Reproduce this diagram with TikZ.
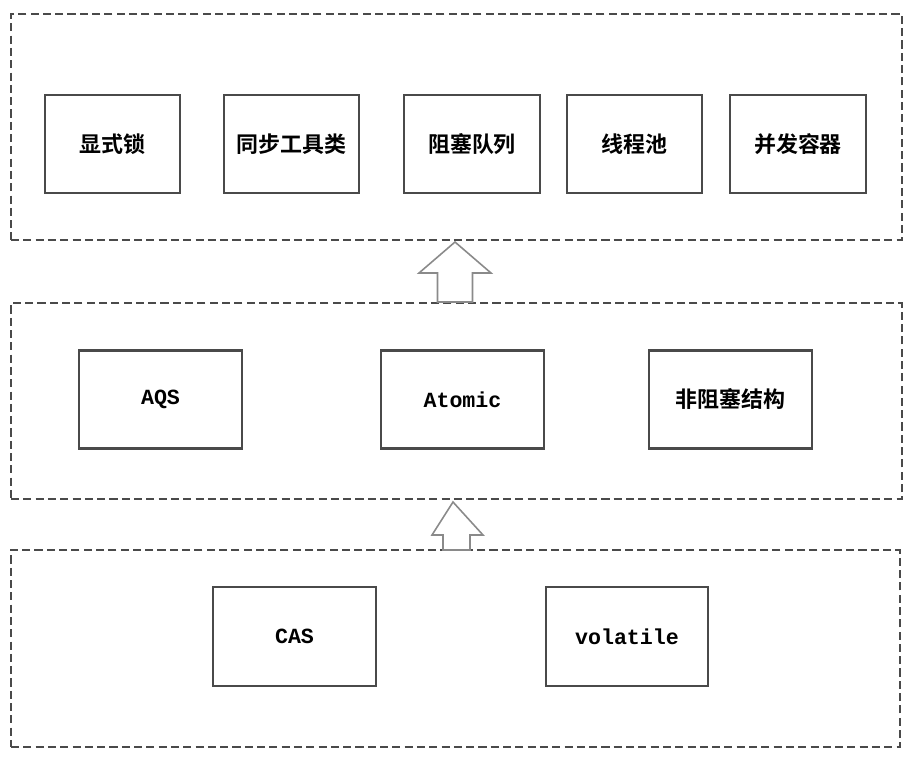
\documentclass[tikz,border=0pt]{standalone}
\usepackage{fontspec}
\usepackage{tikz}
\usepackage{xcolor}
\newfontfamily\cjk{Noto Sans CJK SC Bold}
\newfontfamily\mono{Liberation Mono}
\definecolor{linegray}{HTML}{4A4A4A}
\definecolor{arrowgray}{HTML}{8A8A8A}

\begin{document}
\begin{tikzpicture}[x=0.02cm, y=-0.02cm,
        layer/.style={draw=linegray, line width=1.1pt, dash pattern=on 4.6pt off 2.4pt, minimum width=#1, minimum height=3.94cm},
        cell/.style={draw=linegray, line width=1.2pt, minimum width=#1, minimum height=1.96cm, font=\cjk\fontsize{12.5}{14}\selectfont},
        mcell/.style={cell=#1, font=\mono\bfseries\fontsize{12.3}{14}\selectfont},
        uparrow/.style={draw=arrowgray, line width=0.9pt, fill=white, line join=miter}]
    \useasboundingbox (0,0) rectangle (914,762);

    % three layers
    \node[layer=17.82cm, minimum height=4.52cm] (top) at (456.5, 127) {};
    \node[layer=17.82cm, minimum height=3.92cm] (mid) at (456.5, 401) {};
    \node[layer=17.78cm, minimum height=3.94cm] (bot) at (455.5, 648.5) {};

    % upper layer
    \node[cell=2.7cm] (lock) at (112.5, 144) {显式锁};
    \node[cell=2.7cm] (sync) at (291.5, 144) {同步工具类};
    \node[cell=2.72cm] (queue) at (472, 144) {阻塞队列};
    \node[cell=2.7cm] (pool) at (634.5, 144) {线程池};
    \node[cell=2.72cm] (cont) at (798, 144) {并发容器};

    % middle layer
    \node[mcell=3.26cm] (aqs) at (160.5, 399.5) {AQS};
    \node[mcell=3.26cm] (atomic) at (462.5, 399.5) {Atomic};
    \node[cell=3.26cm] (nonblock) at (730.5, 399.5) {非阻塞结构};

    % lower layer
    \node[mcell=3.26cm, minimum height=1.98cm] (cas) at (294.5, 636.5) {CAS};
    \node[mcell=3.24cm, minimum height=1.98cm] (vol) at (627, 636.5) {volatile};

    % hollow arrows between layers
    \draw[uparrow] (437.5, 302) -- (437.5, 273) -- (419, 273) -- (455, 242)
        -- (491, 273) -- (472.5, 273) -- (472.5, 302) -- cycle;
    \draw[uparrow] (443, 550) -- (443, 535) -- (432, 535) -- (453, 502)
        -- (483, 535) -- (470, 535) -- (470, 550) -- cycle;
\end{tikzpicture}
\end{document}
